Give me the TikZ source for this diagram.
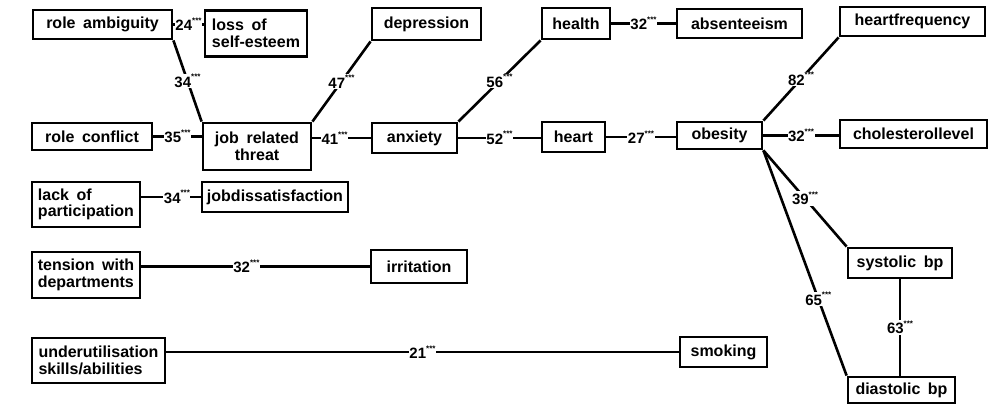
\documentclass[tikz,border=0pt]{standalone}
\usepackage{fontspec}
\setmainfont{Liberation Sans}[WordSpace=1.7]
\newcommand{\coef}[1]{#1\raisebox{0.5em}{\fontsize{8}{8}\selectfont ***}}
\begin{document}
\begin{tikzpicture}[
    x=1pt, y=-1pt,
    box/.style={rectangle, draw=black, line width=2.8pt, fill=white,
      minimum height=29pt, inner sep=0pt, align=center,
      font=\fontsize{16}{16.5}\selectfont\bfseries},
    tall/.style={box, minimum height=46pt, align=left},
    lab/.style={fill=white, inner sep=0.5pt,
      font=\fontsize{15}{15}\selectfont\bfseries},
    line/.style={-, line width=2.6pt}
  ]
    \useasboundingbox (0,0) rectangle (992,406);

    % Variables
    \node[box, minimum width=139pt] (ambig) at (102.5,24.5) {role ambiguity};
    \node[tall, minimum width=102pt] (loss) at (256,33.5) {loss of\\self-esteem};
    \node[box, minimum width=109pt, minimum height=32pt] (depr) at (426.5,24) {depression};
    \node[box, minimum width=68pt, minimum height=31pt] (health) at (576,23.5) {health};
    \node[box, minimum width=125pt] (absent) at (739.5,23.5) {absenteeism};
    \node[box, minimum width=145pt] (hfreq) at (912.5,21.5) {heartfrequency};
    \node[box, minimum width=120pt, minimum height=27pt] (conflict) at (92,136.5) {role conflict};
    \node[box, minimum width=108pt, minimum height=47pt] (threat) at (257,146.5) {job related\\threat};
    \node[box, minimum width=85pt, minimum height=30pt] (anxiety) at (414.5,138) {anxiety};
    \node[box, minimum width=63pt, minimum height=30pt] (heart) at (573.5,137) {heart};
    \node[box, minimum width=85pt, minimum height=27pt] (obesity) at (719.5,135.5) {obesity};
    \node[box, minimum width=147pt, minimum height=28pt] (chol) at (913.5,134) {cholesterollevel};
    \node[tall, minimum width=108pt, minimum height=45pt] (lackpart) at (86,204.5) {lack of\\participation};
    \node[box, minimum width=146pt, minimum height=30pt] (jobdis) at (275,197) {jobdissatisfaction};
    \node[tall, minimum width=108pt] (tension) at (86,275) {tension with\\departments};
    \node[box, minimum width=96pt, minimum height=33pt] (irrit) at (419,266.5) {irritation};
    \node[tall, minimum width=133pt, minimum height=45pt] (underutil) at (98.5,360.5) {underutilisation\\skills/abilities};
    \node[box, minimum width=87pt, minimum height=30pt] (smoking) at (723.5,352) {smoking};
    \node[box, minimum width=104pt, minimum height=30pt] (systolic) at (900,263) {systolic bp};
    \node[box, minimum width=107pt, minimum height=26pt] (diastolic) at (901.5,390) {diastolic bp};

    % Correlaties
    \draw[line] (ambig.east) -- node[lab] {\coef{24}} (ambig.east -| loss.west);
    \draw[line] (ambig.south east) -- node[lab] {\coef{34}} (threat.north west);
    \draw[line] (conflict.east) -- node[lab] {\coef{35}} (conflict.east -| threat.west);
    \draw[line] (threat.north east) -- node[lab] {\coef{47}} (depr.south west);
    \draw[line] (threat.east |- anxiety) -- node[lab, pos=0.38] {\coef{41}} (anxiety.west);
    \draw[line] (anxiety.north east) -- node[lab] {\coef{56}} (health.south west);
    \draw[line] (anxiety.east) -- node[lab] {\coef{52}} (anxiety.east -| heart.west);
    \draw[line] (health.east) -- node[lab] {\coef{32}} (health.east -| absent.west);
    \draw[line] (heart.east) -- node[lab] {\coef{27}} (heart.east -| obesity.west);
    \draw[line] (obesity.north east) -- node[lab] {\coef{82}} (hfreq.south west);
    \draw[line] (obesity.east) -- node[lab] {\coef{32}} (obesity.east -| chol.west);
    \draw[line] (obesity.south east) -- node[lab] {\coef{39}} (systolic.north west);
    \draw[line] (obesity.south east) -- node[lab, pos=0.66] {\coef{65}} (diastolic.north west);
    \draw[line] (systolic.south) -- node[lab] {\coef{63}} (systolic.south |- diastolic.north);
    \draw[line] (lackpart.east |- jobdis) -- node[lab, pos=0.6] {\coef{34}} (jobdis.west);
    \draw[line] (tension.east |- irrit) -- node[lab, pos=0.46] {\coef{32}} (irrit.west);
    \draw[line] (underutil.east |- smoking) -- node[lab] {\coef{21}} (smoking.west);
  \end{tikzpicture}
\end{document}
